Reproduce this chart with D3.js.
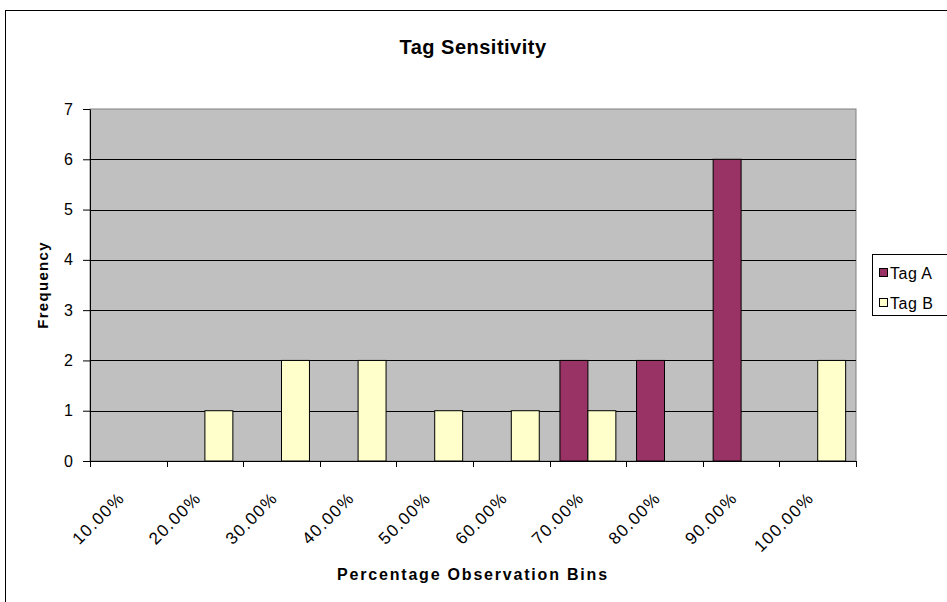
<!DOCTYPE html>
<html>
<head>
<meta charset="utf-8">
<script src="https://cdn.jsdelivr.net/npm/d3@7"></script>
<style>
  body { margin: 0; background: #fff; }
  text { font-family: Arial, "Liberation Sans", sans-serif; }
</style>
</head>
<body>
<div id="chart"></div>
<script>
// data
var bins = ["10.00%", "20.00%", "30.00%", "40.00%", "50.00%", "60.00%", "70.00%", "80.00%", "90.00%", "100.00%"];
var tagA = [0, 0, 0, 0, 0, 0, 2, 2, 6, 0];
var tagB = [0, 1, 2, 2, 1, 1, 1, 0, 0, 2];
var seriesNames = ["Tag A", "Tag B"];
var colors = ["#993366", "#FFFFCC"];
var yTicks = [0, 1, 2, 3, 4, 5, 6, 7];

var W = 947, H = 602;
var margin = {top: 109, right: 91, bottom: 141, left: 90},
  width = W - margin.left - margin.right,
  height = H - margin.top - margin.bottom;

var svg = d3.select("#chart")
  .append("svg")
    .attr("width", W)
    .attr("height", H);

// chart border (cropped on right / bottom)
svg.append("rect")
  .attr("x", 5.5).attr("y", 10.5)
  .attr("width", 960).attr("height", 620)
  .attr("fill", "#fff")
  .attr("stroke", "#000");

svg.append("text")
  .attr("x", 473).attr("y", 54)
  .attr("text-anchor", "middle")
  .style("font-size", "20px")
  .style("font-weight", "bold")
  .style("letter-spacing", "0.5px")
  .text("Tag Sensitivity");

var g = svg.append("g")
  .attr("transform", "translate(" + margin.left + "," + margin.top + ")");

var x = d3.scaleBand()
  .domain(bins)
  .range([0, width]);

var xs = d3.scaleBand()
  .domain(seriesNames)
  .range([0, x.bandwidth()])
  .paddingOuter(0.37);

var y = d3.scaleLinear()
  .domain([0, 7])
  .range([height, 0]);

// plot area
g.append("rect")
  .attr("width", width).attr("height", height)
  .attr("fill", "#C0C0C0")
  .attr("stroke", "#808080");

// gridlines
g.append("g")
  .selectAll("line")
  .data(yTicks.slice(1, 7))
  .enter()
  .append("line")
    .attr("x1", 0).attr("x2", width)
    .attr("y1", function (d) { return Math.round(y(d)) + 0.5; })
    .attr("y2", function (d) { return Math.round(y(d)) + 0.5; })
    .attr("stroke", "#000");

// bars
var rows = bins.map(function (b, i) { return {bin: b, values: [tagA[i], tagB[i]]}; });
g.append("g")
  .selectAll("g")
  .data(rows)
  .enter()
  .append("g")
    .attr("transform", function (d) { return "translate(" + x(d.bin) + ",0)"; })
  .selectAll("rect")
  .data(function (d) { return d.values.map(function (v, j) { return {key: seriesNames[j], v: v, j: j}; }); })
  .enter()
  .filter(function (d) { return d.v > 0; })
  .append("rect")
    .attr("x", function (d) { return xs(d.key); })
    .attr("y", function (d) { return y(d.v); })
    .attr("width", xs.bandwidth())
    .attr("height", function (d) { return y(0) - y(d.v); })
    .attr("fill", function (d) { return colors[d.j]; })
    .attr("stroke", "#000");

// x axis: ticks on category boundaries, labels at centers
var xAxis = g.append("g")
  .attr("transform", "translate(0," + height + ")");
xAxis.append("line")
  .attr("x1", 0).attr("x2", width)
  .attr("y1", 0.5).attr("y2", 0.5)
  .attr("stroke", "#000");
xAxis.selectAll(".tk")
  .data(d3.range(bins.length + 1))
  .enter()
  .append("line")
    .attr("x1", function (i) { return Math.round(i * x.step()) + 0.5; })
    .attr("x2", function (i) { return Math.round(i * x.step()) + 0.5; })
    .attr("y1", 0).attr("y2", 6)
    .attr("stroke", "#000");
xAxis.selectAll(".lbl")
  .data(bins)
  .enter()
  .append("text")
    .attr("transform", function (d) {
      return "translate(" + (x(d) + x.bandwidth() / 2 - 7) + ",34) rotate(-45)";
    })
    .attr("text-anchor", "end")
    .attr("dy", "0.35em")
    .style("font-size", "17px")
    .style("letter-spacing", "1.3px")
    .text(function (d) { return d; });

// y axis
var yAxis = g.append("g")
  .call(d3.axisLeft(y).tickValues(yTicks).tickFormat(d3.format("d"))
    .tickSize(7).tickSizeOuter(0).tickPadding(10));
yAxis.select(".domain").attr("stroke", "#000");
yAxis.selectAll(".tick line").attr("stroke", "#000");
yAxis.selectAll("text")
  .style("font-size", "16px")
  .attr("fill", "#000")
  .style("font-family", "Arial, 'Liberation Sans', sans-serif");

// axis titles
svg.append("text")
  .attr("transform", "translate(48," + (margin.top + height / 2) + ") rotate(-90)")
  .attr("text-anchor", "middle")
  .style("font-size", "15px")
  .style("font-weight", "bold")
  .style("letter-spacing", "1.3px")
  .text("Frequency");

svg.append("text")
  .attr("x", 473).attr("y", 580)
  .attr("text-anchor", "middle")
  .style("font-size", "16px")
  .style("font-weight", "bold")
  .style("letter-spacing", "1.8px")
  .text("Percentage Observation Bins");

// legend
var lg = svg.append("g").attr("transform", "translate(872,254)");
lg.append("rect")
  .attr("x", 0.5).attr("y", 0.5)
  .attr("width", 100).attr("height", 61)
  .attr("fill", "#fff")
  .attr("stroke", "#000");
seriesNames.forEach(function (s, i) {
  lg.append("rect")
    .attr("x", 7.5).attr("y", 14.5 + i * 30)
    .attr("width", 8).attr("height", 8)
    .attr("fill", colors[i])
    .attr("stroke", "#000");
  lg.append("text")
    .attr("x", 18).attr("y", 19 + i * 30)
    .attr("dy", "0.35em")
    .style("font-size", "16px")
    .style("letter-spacing", "0.5px")
    .text(s);
});
</script>
</body>
</html>
